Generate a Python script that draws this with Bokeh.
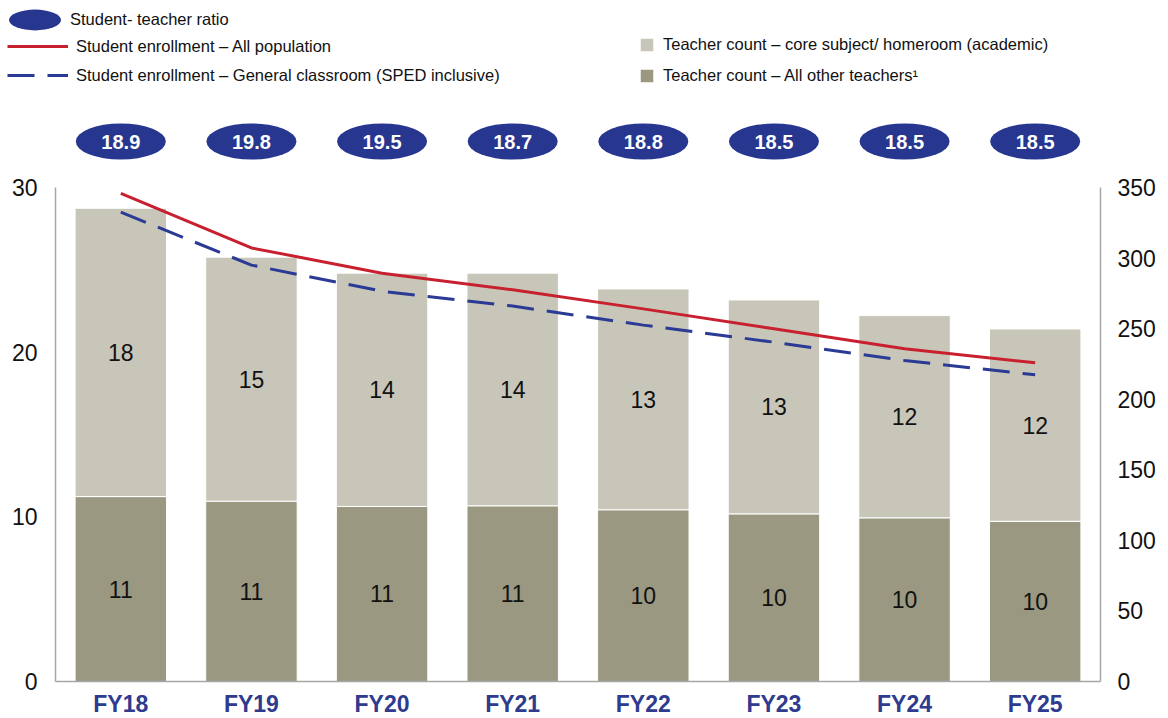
from bokeh.plotting import figure
from bokeh.models import (FactorRange, Range1d, LinearAxis, FixedTicker, Legend,
                          LegendItem, ColumnDataSource)
from bokeh.core.properties import value
from bokeh.embed import file_html
from bokeh.resources import INLINE

# ---------------- data ----------------
years = ["FY18", "FY19", "FY20", "FY21", "FY22", "FY23", "FY24", "FY25"]
teachers_other = [11.23, 10.95, 10.63, 10.67, 10.43, 10.18, 9.94, 9.73]
teachers_core = [17.51, 14.82, 14.17, 14.13, 13.41, 12.99, 12.28, 11.68]
enroll_all = [345.9, 307.2, 289.3, 277.5, 264.0, 249.9, 235.7, 225.8]
enroll_general = [332.5, 295.0, 276.5, 266.0, 252.5, 240.4, 227.4, 217.3]
ratio = [18.9, 19.8, 19.5, 18.7, 18.8, 18.5, 18.5, 18.5]
left_ticks = [0, 10, 20, 30]
right_ticks = [0, 50, 100, 150, 200, 250, 300, 350]

# ---------------- style / layout ----------------
FONT = "Liberation Sans"
NAVY = "#27378F"
RED = "#C8202F"
BLUE = "#2B3A94"
LIGHT = "#C7C6B9"
DARK = "#9A9880"
AXIS = "#A6A6A6"
XLAB = "#2E3B8E"

W, H = 1168, 718
CAT_LEFT, CAT_RIGHT = 55, 1100          # categories span these canvas x
RIGHT_BORDER = W - (CAT_RIGHT + CAT_LEFT)
PAD_UNITS = CAT_LEFT / ((CAT_RIGHT - CAT_LEFT) / len(years))
Y0_PX, Y30_PX = 681, 187                 # canvas y of value 0 and 30
PX = (Y0_PX - Y30_PX) / 30
Y_START = -(H - Y0_PX) / PX
Y_END = 30 + Y30_PX / PX
R_SCALE = 350 / 30
ELL_Y = 30 + (Y30_PX - 141) / PX

tops = [o + c for o, c in zip(teachers_other, teachers_core)]
src = ColumnDataSource(dict(
    year=years,
    other=teachers_other,
    top=tops,
    other_mid=[o / 2 for o in teachers_other],
    core_mid=[o + c / 2 for o, c in zip(teachers_other, teachers_core)],
    other_lbl=[f"{v:.0f}" for v in teachers_other],
    core_lbl=[f"{v:.0f}" for v in teachers_core],
    ratio_lbl=[f"{v:.1f}" for v in ratio],
    all=enroll_all,
    gen=enroll_general,
))

p = figure(
    x_range=FactorRange(factors=years, range_padding=PAD_UNITS,
                        range_padding_units="absolute", factor_padding=0),
    y_range=Range1d(Y_START, Y_END),
    width=W, height=H,
    min_border_left=0, min_border_right=RIGHT_BORDER, min_border_top=0, min_border_bottom=0,
    output_backend="svg", toolbar_location=None,
)
p.extra_y_ranges = {"right": Range1d(Y_START * R_SCALE, Y_END * R_SCALE)}
p.outline_line_color = None
p.xgrid.visible = False
p.ygrid.visible = False
p.background_fill_color = "white"
p.border_fill_color = "white"

# bars
b_other = p.vbar(x="year", bottom=0, top="other", width=0.7, fill_color=DARK,
                 line_color="white", line_width=1, source=src)
b_core = p.vbar(x="year", bottom="other", top="top", width=0.7, fill_color=LIGHT,
                line_color="white", line_width=1, source=src)

# bar labels
for ycol, tcol in (("other_mid", "other_lbl"), ("core_mid", "core_lbl")):
    p.text(x="year", y=ycol, text=tcol, source=src, text_font=value(FONT),
           text_font_size="23px", text_color="#111111", text_align="center",
           text_baseline="middle")

# enrollment lines
l_all = p.line(x="year", y="all", y_range_name="right", line_color=RED,
               line_width=3, source=src)
l_gen = p.line(x="year", y="gen", y_range_name="right", line_color=BLUE,
               line_width=3, line_dash="27 13", source=src)

# ratio ellipses
ell = p.ellipse(x="year", y=ELL_Y, width=90, height=36, width_units="screen",
                height_units="screen", fill_color=NAVY, line_color=None, source=src)
p.text(x="year", y=ELL_Y, text="ratio_lbl", source=src, text_font=value(FONT),
       text_font_style="bold", text_font_size="20px", text_color="white",
       text_align="center", text_baseline="middle")

# axes (drawn at fixed locations)
ly = p.yaxis[0]
ly.ticker = FixedTicker(ticks=left_ticks)
ly.bounds = (0, 30)
ly.fixed_location = 0
ry = LinearAxis(y_range_name="right", ticker=FixedTicker(ticks=right_ticks),
                bounds=(0, 350), fixed_location=len(years))
p.add_layout(ry, "right")
xa = p.xaxis[0]
xa.fixed_location = 0
xa.bounds = (0, len(years))
for ax in (ly, ry, xa):
    ax.axis_line_color = AXIS
    ax.axis_line_width = 1.5
    ax.major_tick_line_color = None
    ax.minor_tick_line_color = None
    ax.major_tick_out = 0
    ax.major_tick_in = 0
    ax.minor_tick_out = 0
    ax.major_label_text_font = FONT
    ax.major_label_text_font_size = "23px"
    ax.major_label_text_color = "#111111"
ly.major_label_standoff = 18
ry.major_label_standoff = 17
xa.major_label_text_font_style = "bold"
xa.major_label_text_color = XLAB
xa.major_label_standoff = 9

# legends
common = dict(padding=0, margin=0, border_line_color=None, background_fill_alpha=0,
              label_text_font=FONT, label_text_font_size="16.5px",
              label_text_color="#111111")
legA = Legend(items=[LegendItem(label="Student- teacher ratio", renderers=[ell])],
              location=(2, 666), glyph_width=65, glyph_height=65,
              label_standoff=3, **common)
legB = Legend(items=[LegendItem(label="Student enrollment \u2013 All population", renderers=[l_all]),
                     LegendItem(label="Student enrollment \u2013 General classroom (SPED inclusive)", renderers=[l_gen])],
              location=(7, 633), glyph_width=61, glyph_height=20, spacing=9,
              label_standoff=8, **common)
legC = Legend(items=[LegendItem(label="Teacher count \u2013 core subject/ homeroom (academic)", renderers=[b_core]),
                     LegendItem(label="Teacher count \u2013 All other teachers\u00b9", renderers=[b_other])],
              location=(638, 633), glyph_width=17, glyph_height=17, label_height=17,
              spacing=12, label_standoff=8, **common)
for lg in (legA, legB, legC):
    p.add_layout(lg)

open("out.html", "w").write(file_html(p, INLINE))
